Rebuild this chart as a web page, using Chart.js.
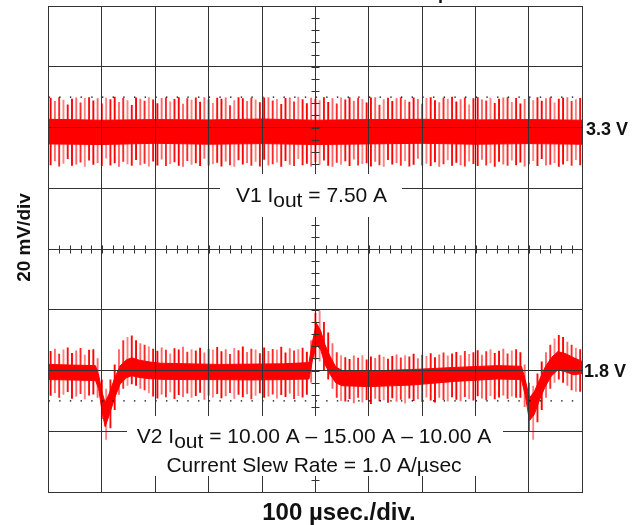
<!DOCTYPE html>
<html>
<head>
<meta charset="utf-8">
<title>V1 / V2 load transient</title>
<script src="https://cdn.jsdelivr.net/npm/chart.js@4.4.1/dist/chart.umd.min.js"></script>
<style>
  html, body { margin: 0; padding: 0; background: #fff; }
  canvas { display: block; }
</style>
</head>
<body>
<canvas id="scope" width="639" height="525"></canvas>
<script>
// time base: 100 us/div, 10 div; vertical: 20 mV/div, 8 div
const spikeStart = 4;   // us, first switching spike
const spikeStep = 8;    // us between switching spikes

// channel offsets on screen (mV), V1 two div above centre, V2 two div below
const ch1Offset = 40;
const ch2Offset = -40;

// V1 (3.3 V) switching spikes, mV from nominal
const v1Top = [
  9.8, 8.7, 10.0, 9.1, 7.6, 9.5, 9.9, 8.2, 9.7, 10.0,
  8.9, 9.6, 7.9, 9.8, 9.3, 10.1, 8.4, 9.7, 9.0, 7.4,
  9.9, 9.5, 8.8, 10.0, 9.2, 8.0, 9.7, 9.9, 8.6, 9.4,
  10.0, 7.8, 9.6, 9.1, 9.9, 8.5, 10.0, 9.3, 8.1, 9.8,
  9.5, 9.9, 7.3, 9.0, 10.0, 9.6, 8.7, 9.8, 9.2, 8.3,
  9.9, 10.0, 8.9, 9.4, 7.7, 9.7, 9.9, 8.6, 10.1, 9.3,
  8.0, 9.8, 9.5, 9.0, 10.0, 8.4, 9.6, 7.9, 9.9, 9.2,
  10.0, 8.8, 9.7, 9.4, 8.2, 9.9, 10.0, 7.5, 9.3, 9.8,
  8.7, 9.6, 10.0, 9.1, 8.5, 9.9, 9.4, 7.8, 9.7, 10.0,
  9.0, 8.3, 9.8, 9.5, 10.1, 8.6, 9.3, 9.9, 7.6, 9.6,
  10.0, 9.2, 8.9, 9.8, 8.1, 9.5, 9.9, 10.0, 8.4, 9.7,
  7.9, 9.4, 9.8, 9.0, 10.0, 8.8, 9.6, 9.9, 8.2, 9.5,
  9.8, 10.0, 8.7, 9.3, 9.7
];
const v1Bot = [
  -12.4, -11.1, -12.8, -11.9, -10.4, -12.6, -12.2, -11.5, -12.9, -10.9,
  -12.3, -11.7, -12.7, -10.2, -12.5, -11.8, -12.9, -11.3, -12.1, -12.6,
  -10.7, -12.4, -11.9, -12.8, -11.2, -12.5, -10.5, -12.7, -12.0, -11.4,
  -12.6, -12.9, -11.0, -12.3, -11.8, -12.7, -10.3, -12.5, -12.1, -11.6,
  -12.8, -11.2, -12.4, -12.9, -10.8, -12.2, -11.7, -12.6, -11.3, -12.8,
  -10.6, -12.5, -12.1, -11.5, -12.9, -11.0, -12.3, -12.7, -10.4, -12.4,
  -11.9, -12.8, -11.4, -12.2, -10.9, -12.6, -12.9, -11.6, -12.3, -11.1,
  -12.7, -10.5, -12.5, -12.0, -11.8, -12.8, -11.3, -12.4, -12.9, -10.7,
  -12.2, -11.7, -12.6, -11.0, -12.8, -12.3, -10.3, -12.5, -11.9, -12.7,
  -11.4, -12.9, -12.1, -10.8, -12.6, -11.6, -12.4, -12.8, -11.2, -12.0,
  -12.7, -10.6, -12.5, -11.8, -12.9, -11.3, -12.2, -12.6, -10.9, -12.4,
  -11.5, -12.8, -12.1, -11.0, -12.7, -10.4, -12.5, -12.3, -11.7, -12.9,
  -12.2, -11.1, -12.6, -10.7, -12.4
];

// V1 dense ripple band
const core1T  = [0, 100, 200, 300, 400, 500, 600, 700, 800, 900, 1000];
const core1Hi = [2.7, 2.4, 2.6, 2.5, 2.8, 2.4, 2.6, 2.7, 2.5, 2.6, 2.4];
const core1Lo = [-5.4, -5.6, -5.2, -5.5, -5.3, -5.6, -5.4, -5.2, -5.5, -5.3, -5.5];

// V2 (1.8 V) switching spikes, mV from nominal
const v2Top = [
  6.4, 7.2, 5.5, 6.9, 7.6, 5.8, 6.6, 7.4, 5.2, 6.8, 7.0,
  4.0, -3.0, -6.0, -3.0, 2.0, 7.0, 10.0, 11.0, 11.5, 10.0, 9.0, 8.5,
  7.9, 7.2, 6.5, 7.6, 6.8, 5.6, 7.3, 6.9, 7.8, 6.2,
  7.0, 6.6, 7.5, 5.9, 7.1, 6.8, 7.7, 6.3, 7.0, 5.4,
  7.4, 6.7, 7.9, 6.1, 7.2, 6.9, 5.7, 7.6, 6.4, 7.1,
  6.8, 7.8, 5.9, 7.3, 6.6, 7.0, 7.5, 6.2,
  10.0, 19.0, 19.7, 16.0, 12.5, 9.0, 6.0, 5.0,
  4.4, 3.8, 4.9, 4.2, 5.0, 3.6, 4.6, 4.1, 5.2, 4.5,
  3.9, 4.8, 5.3, 4.3, 5.0, 4.6, 5.5, 4.0, 5.2, 4.8,
  5.7, 4.4, 5.3, 5.9, 4.9, 5.6, 6.1, 5.0, 6.4, 5.4,
  6.0, 6.7, 5.2, 6.3, 7.0, 5.8, 6.5, 7.2, 5.6, 6.6, 7.0,
  6.0, 2.0, -4.0, -5.0, -1.0, 3.0, 6.0, 8.5, 10.5, 11.7, 11.0, 9.5, 8.5, 7.5, 7.0
];
const v2Bot = [
  -8.3, -7.4, -9.0, -8.0, -7.1, -9.3, -8.6, -7.7, -9.5, -8.2, -7.9,
  -9.0, -16.0, -22.8, -19.0, -13.0, -8.0, -6.0, -5.0, -4.5, -5.0, -6.0, -6.5,
  -7.5, -8.6, -9.2, -7.9, -8.8, -7.2, -9.4, -8.1, -8.7, -7.6,
  -9.0, -8.4, -7.3, -9.6, -8.2, -8.9, -7.7, -9.1, -8.5, -7.4,
  -9.3, -8.0, -8.8, -7.8, -9.5, -8.3, -7.5, -9.0, -8.6, -7.9,
  -9.2, -8.1, -8.7, -7.6, -9.4, -8.4, -8.9, -8.0,
  -4.0, 3.5, 3.0, 0.0, -3.0, -6.0, -9.0, -10.0,
  -10.2, -9.4, -10.8, -9.0, -10.5, -9.7, -11.0, -9.3, -10.1, -9.8,
  -10.6, -9.1, -10.3, -9.6, -10.9, -9.2, -10.0, -9.5, -10.4, -8.9,
  -9.9, -10.5, -9.0, -9.7, -10.2, -8.8, -9.6, -10.1, -8.7, -9.4,
  -9.9, -8.5, -9.2, -9.8, -8.4, -9.5, -8.9, -8.2, -9.3, -8.6, -9.0,
  -9.0, -12.0, -20.0, -22.8, -17.0, -13.0, -9.0, -6.0, -4.0, -3.0, -4.0, -5.0, -6.5, -7.0, -7.0
];

// V2 dense ripple band, follows the load steps
const core2T  = [0, 40, 88, 94, 100, 106, 114, 124, 134, 146, 156, 170, 190, 210, 260, 320, 380, 440, 488, 494,
                 502, 510, 518, 528, 538, 550, 600, 680, 760, 840, 886, 893, 901, 910, 920, 930, 942, 954, 968, 984, 1000];
const core2Hi = [2.0, 1.8, 1.6, -1.5, -7.0, -10.5, -7.5, -2.5, 1.5, 3.5, 4.2, 3.4, 2.8, 2.4, 2.2, 2.0, 2.1, 2.2, 2.6, 9.0,
                 15.6, 13.0, 8.5, 4.5, 1.2, 0.0, -0.2, 0.3, 1.0, 1.6, 1.4, -3.0, -9.0, -7.0, -3.0, 1.0, 4.2, 6.2, 5.6, 4.2, 3.0];
const core2Lo = [-3.0, -3.1, -3.3, -6.0, -13.0, -18.5, -14.5, -9.0, -4.5, -2.4, -1.7, -2.3, -2.7, -2.9, -3.0, -3.0, -3.1, -3.0, -2.8, 3.0,
                 8.5, 6.8, 2.0, -1.4, -4.0, -5.0, -5.3, -4.8, -3.6, -2.8, -3.0, -8.0, -16.5, -14.5, -9.6, -5.5, -1.8, 0.2, -0.4, -1.4, -1.0];

// scope cursors, mV from nominal
const ch1Cursor = 10;
const ch2Cursor = -10;

const RED = '#ff0000';
const GRID = '#333333';
const FONT = "'Liberation Sans', Arial, Helvetica, sans-serif";
const spikeShades = ['rgba(255,0,0,1)', 'rgba(255,0,0,0.6)', 'rgba(255,0,0,0.85)', 'rgba(255,30,30,0.55)', 'rgba(255,0,0,0.95)'];

function spikePoints(tops, bots, offset) {
    const pts = [];
    tops.forEach((top, i) => {
        const t = spikeStart + i * spikeStep;
        pts.push({ x: t, y: offset + bots[i] }, { x: t, y: offset + top }, { x: t, y: null });
    });
    return pts;
}

function band(ts, vals, offset) {
    return ts.map((t, i) => ({ x: t, y: offset + vals[i] }));
}

function spikeSet(tops, bots, offset) {
    return {
        data: spikePoints(tops, bots, offset),
        borderWidth: 1.9,
        borderColor: spikeShades[0],
        segment: { borderColor: c => spikeShades[Math.floor(c.p0DataIndex / 3) % spikeShades.length] },
        order: 3
    };
}

function cursorSet(level) {
    return {
        data: [{ x: 0, y: level }, { x: 1000, y: level }],
        borderColor: '#000',
        borderWidth: 1.4,
        borderDash: [1.4, 9.28],
        order: 1
    };
}

// text with a subscript run: [text, isSub]
function drawRuns(ctx, runs, cx, baseline, size) {
    ctx.font = size + 'px ' + FONT;
    const widths = runs.map(r => ctx.measureText(r[0]).width);
    let x = cx - widths.reduce((a, b) => a + b, 0) / 2;
    runs.forEach((r, i) => {
        ctx.fillText(r[0], x, baseline + (r[1] ? 5 : 0));
        x += widths[i];
    });
}

const scopeDecor = {
    id: 'scopeDecor',
    afterDraw(chart) {
        const { ctx, scales: { x, y } } = chart;
        const cx = Math.round(x.getPixelForValue(500)) + 0.5;
        const cy = Math.round(y.getPixelForValue(0)) + 0.5;
        ctx.save();

        // minor ticks on the centre axes
        ctx.strokeStyle = GRID;
        ctx.lineWidth = 1;
        ctx.beginPath();
        for (let t = 20; t < 1000; t += 20) {
            const px = Math.round(x.getPixelForValue(t)) + 0.5;
            ctx.moveTo(px, cy - 4); ctx.lineTo(px, cy + 4);
        }
        for (let v = -76; v < 80; v += 4) {
            const py = Math.round(y.getPixelForValue(v)) + 0.5;
            ctx.moveTo(cx - 4, py); ctx.lineTo(cx + 4, py);
        }
        ctx.stroke();

        // annotation boxes
        ctx.fillStyle = '#fff';
        ctx.fillRect(220, 174, 182, 43);
        ctx.fillRect(127, 416, 376, 60);

        ctx.fillStyle = '#111';
        ctx.textAlign = 'left';
        ctx.textBaseline = 'alphabetic';
        drawRuns(ctx, [['V1 I', false], ['out', true], [' = 7.50 A', false]], 311.5, 202, 21);
        drawRuns(ctx, [['V2 I', false], ['out', true], [' = 10.00 A \u2013 15.00 A \u2013 10.00 A', false]], 314, 443, 21);
        drawRuns(ctx, [['Current Slew Rate = 1.0 A/\u00b5sec', false]], 314, 471.5, 21);

        // channel reference labels
        ctx.font = 'bold 18px ' + FONT;
        ctx.fillText('3.3 V', 586, 134.5);
        ctx.fillText('1.8 V', 584, 376.5);

        // axis titles
        ctx.textAlign = 'center';
        ctx.font = 'bold 24px ' + FONT;
        ctx.fillText('100 \u00b5sec./div.', 339, 520);
        ctx.save();
        ctx.translate(30, 237.5);
        ctx.rotate(-Math.PI / 2);
        ctx.font = 'bold 19px ' + FONT;
        ctx.fillText('20 mV/div', 0, 0);
        ctx.restore();

        // title sits above the page, only its descender shows
        ctx.textAlign = 'left';
        ctx.font = 'bold 18px ' + FONT;
        const title = 'Load Transient Response';
        const lead = ctx.measureText('Load Transient Res').width;
        ctx.fillText(title, 438 - lead, -1);

        ctx.restore();
    }
};

const axisGrid = { color: GRID, lineWidth: 1, drawTicks: false, offset: false, z: 1 };
const axisBorder = { color: GRID, width: 1, z: 1 };

new Chart(document.getElementById('scope'), {
    type: 'line',
    data: {
        datasets: [
            spikeSet(v1Top, v1Bot, ch1Offset),
            spikeSet(v2Top, v2Bot, ch2Offset),
            { data: band(core1T, core1Hi, ch1Offset), borderColor: RED, borderWidth: 1, order: 2 },
            { data: band(core1T, core1Lo, ch1Offset), borderColor: RED, borderWidth: 1, backgroundColor: RED, fill: 2, order: 2 },
            { data: band(core2T, core2Hi, ch2Offset), borderColor: RED, borderWidth: 1, order: 2 },
            { data: band(core2T, core2Lo, ch2Offset), borderColor: RED, borderWidth: 1, backgroundColor: RED, fill: 4, order: 2 },
            cursorSet(ch1Offset + ch1Cursor),
            cursorSet(ch2Offset + ch2Cursor)
        ]
    },
    options: {
        responsive: false,
        animation: false,
        events: [],
        layout: { padding: { left: 48.5, right: 56.7, top: 6, bottom: 33 } },
        elements: { point: { radius: 0 }, line: { tension: 0 } },
        plugins: { legend: { display: false }, tooltip: { enabled: false } },
        scales: {
            x: {
                type: 'linear', min: 0, max: 1000, offset: false,
                ticks: { display: false, stepSize: 100 },
                grid: axisGrid, border: axisBorder,
                afterFit: s => { s.height = 0; }
            },
            y: {
                type: 'linear', min: -80, max: 80,
                ticks: { display: false, stepSize: 20 },
                grid: axisGrid, border: axisBorder,
                afterFit: s => { s.width = 0; }
            }
        }
    },
    plugins: [scopeDecor]
});
</script>
</body>
</html>
